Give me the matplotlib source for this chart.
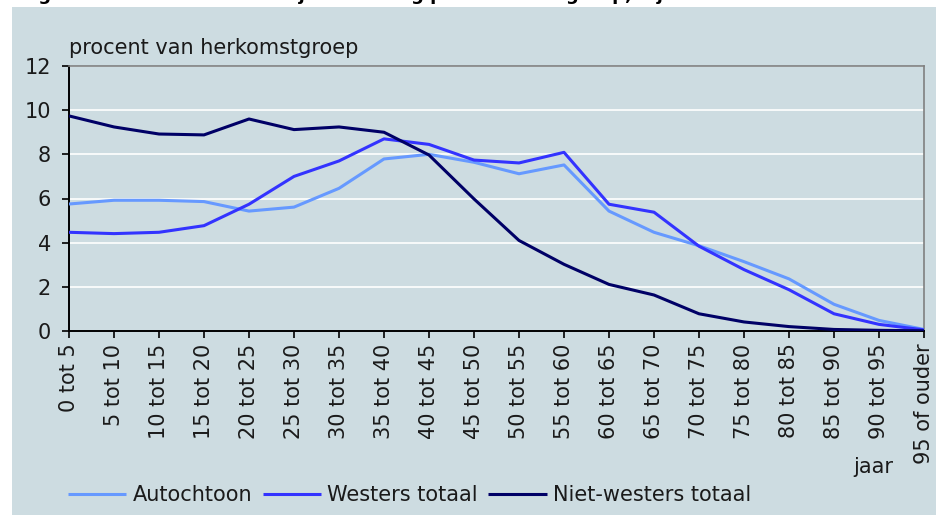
import matplotlib.pyplot as plt
from matplotlib.patches import Rectangle

# leeftijdsklassen
age_groups = ["0 tot 5", "5 tot 10", "10 tot 15", "15 tot 20", "20 tot 25",
              "25 tot 30", "30 tot 35", "35 tot 40", "40 tot 45", "45 tot 50",
              "50 tot 55", "55 tot 60", "60 tot 65", "65 tot 70", "70 tot 75",
              "75 tot 80", "80 tot 85", "85 tot 90", "90 tot 95", "95 of ouder"]

autochtoon = [5.75, 5.92, 5.92, 5.86, 5.43, 5.61, 6.46, 7.79, 8.0, 7.64,
              7.12, 7.52, 5.43, 4.47, 3.86, 3.14, 2.36, 1.21, 0.48, 0.07]
westers = [4.47, 4.41, 4.47, 4.77, 5.74, 7.0, 7.7, 8.7, 8.45, 7.74,
           7.61, 8.09, 5.74, 5.38, 3.84, 2.78, 1.87, 0.78, 0.3, 0.05]
niet_westers = [9.74, 9.24, 8.92, 8.88, 9.6, 9.12, 9.24, 9.0, 7.97, 5.98,
                4.1, 3.02, 2.11, 1.63, 0.78, 0.41, 0.2, 0.07, 0.03, 0.01]

series = [("Autochtoon", autochtoon, "#6699ff"),
          ("Westers totaal", westers, "#3333ff"),
          ("Niet-westers totaal", niet_westers, "#000066")]

BG = "#cddce1"
FS = 15

fig = plt.figure(figsize=(9.37, 5.15), dpi=100, facecolor="white")
fig.patches.append(Rectangle((12 / 937, 0), 1, 1 - 7 / 515, transform=fig.transFigure,
                             facecolor=BG, edgecolor="none", zorder=-5))
# afgesneden titel bovenaan (in het origineel maar half zichtbaar)
fig.text(20 / 937, 1.0, "Figuur 1. Procentuele leeftijdsverdeling per herkomstgroep, 1 januari 2006",
         fontsize=13, fontweight="bold", va="baseline", ha="left", zorder=-4)

ax = fig.add_axes([69 / 937, 1 - 331 / 515, (924 - 69) / 937, (331 - 66) / 515])
ax.set_facecolor(BG)

x = list(range(len(age_groups)))
for name, vals, color in series:
    ax.plot(x, vals, color=color, lw=2.2, label=name, solid_capstyle="butt", zorder=3)

ax.set_xlim(0, len(age_groups) - 1)
ax.set_ylim(0, 12)
ax.set_yticks(range(0, 13, 2))
ax.set_xticks(x)
ax.set_xticklabels(age_groups, rotation=90, fontsize=FS, color="#1a1a1a")
ax.tick_params(axis="y", labelsize=FS, labelcolor="#1a1a1a", length=5, width=1.2, pad=8)
ax.tick_params(axis="x", length=5, width=1.2, pad=4)
ax.yaxis.grid(True, color="white", lw=1.2)
ax.set_axisbelow(True)

for side in ["left", "bottom"]:
    ax.spines[side].set_color("black")
    ax.spines[side].set_linewidth(1.4)
for side in ["top", "right"]:
    ax.spines[side].set_color("#808080")
    ax.spines[side].set_linewidth(1.2)

fig.text(69 / 937, 1 - 48 / 515, "procent van herkomstgroep", fontsize=FS, color="#1a1a1a",
         ha="left", va="center")
fig.text(893 / 937, 1 - 467 / 515, "jaar", fontsize=FS, color="#1a1a1a", ha="right", va="center")

fig.legend(loc="center left", bbox_to_anchor=(68 / 937, 1 - 495 / 515), ncol=3, frameon=False,
           fontsize=FS, handlelength=2.8, handletextpad=0.3, columnspacing=0.5, borderpad=0,
           borderaxespad=0, labelcolor="#1a1a1a")

fig.savefig("out.png", dpi=100, facecolor="white")
